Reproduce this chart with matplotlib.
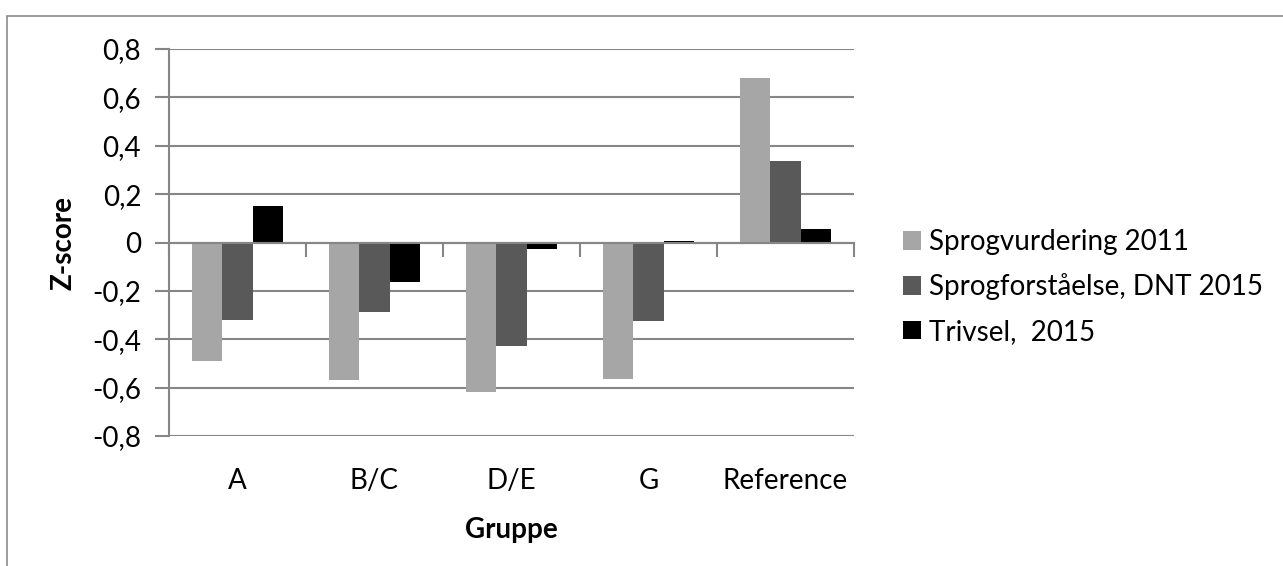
import numpy as np
import matplotlib
matplotlib.use('Agg')
import matplotlib.pyplot as plt
from matplotlib.patches import Rectangle
from matplotlib.ticker import FuncFormatter, MultipleLocator
import matplotlib.transforms as mtransforms

plt.rcParams['font.family'] = ['Lato', 'DejaVu Sans']

groups = ['A', 'B/C', 'D/E', 'G', 'Reference']
series_names = ['Sprogvurdering 2011', 'Sprogforståelse, DNT 2015', 'Trivsel,  2015']
sprogvurdering = [-0.49, -0.57, -0.62, -0.563, 0.68]
sprogforstaaelse = [-0.32, -0.287, -0.427, -0.324, 0.336]
trivsel = [0.15, -0.163, -0.026, 0.006, 0.054]
colors = ['#a6a6a6', '#595959', '#000000']

W, H = 1283, 566
fig = plt.figure(figsize=(W / 100, H / 100), dpi=100)
ax = fig.add_axes([169 / W, 1 - 436 / H, (854 - 169) / W, (436 - 49) / H])

# chart frame (top and left edges visible)
fig.add_artist(Rectangle((7 / W, -0.2), 2, 1 - 16 / H + 0.2, transform=fig.transFigure,
                         fill=False, edgecolor='#8c8c8c', linewidth=1.2))

x = np.arange(len(groups)) + 0.5
w = 1 / 4.5
for k, vals in enumerate([sprogvurdering, sprogforstaaelse, trivsel]):
    ax.bar(x + (k - 1) * w, vals, width=w, color=colors[k], label=series_names[k], zorder=3)

ax.set_xlim(0, len(groups))
ax.set_ylim(-0.8, 0.8)
ax.yaxis.set_major_locator(MultipleLocator(0.2))
ax.yaxis.set_major_formatter(FuncFormatter(
    lambda v, p: '0' if abs(v) < 1e-9 else f'{v:.1f}'.replace('.', ',')))
ax.grid(axis='y', color='#868686', linewidth=1.5, zorder=0)

gray = '#868686'
for s in ['top', 'right']:
    ax.spines[s].set_visible(False)
ax.spines['left'].set_color(gray)
ax.spines['left'].set_linewidth(1.5)
ax.spines['bottom'].set_position(('data', 0))
ax.spines['bottom'].set_color(gray)
ax.spines['bottom'].set_linewidth(1.5)
ax.spines['bottom'].set_zorder(4)

ax.set_xticks(np.arange(len(groups) + 1))
ax.set_xticklabels([])
ax.tick_params(axis='x', direction='out', length=10, width=1.5, color=gray)
ax.tick_params(axis='y', direction='out', length=10, width=1.5, color=gray,
               labelsize=20, pad=10)

# category labels sit under the plot area
trans = mtransforms.blended_transform_factory(ax.transData, ax.transAxes)
for xi, g in zip(x, groups):
    ax.text(xi, -0.115, g, transform=trans, ha='center', va='center', fontsize=20)

ax.set_xlabel('Gruppe', fontsize=20, fontweight='bold')
ax.xaxis.set_label_coords(0.5, -0.21)
ax.set_ylabel('Z-score', fontsize=20, fontweight='bold')
ax.yaxis.set_label_coords(-0.135, 0.5)

handles, labels = ax.get_legend_handles_labels()
fig.legend(handles, labels, loc='center left', bbox_to_anchor=(878 / W, 1 - 287 / H),
           frameon=False, fontsize=20, handlelength=0.65, handleheight=0.65,
           handletextpad=0.3, labelspacing=0.65)

fig.savefig('out.png', dpi=100)
